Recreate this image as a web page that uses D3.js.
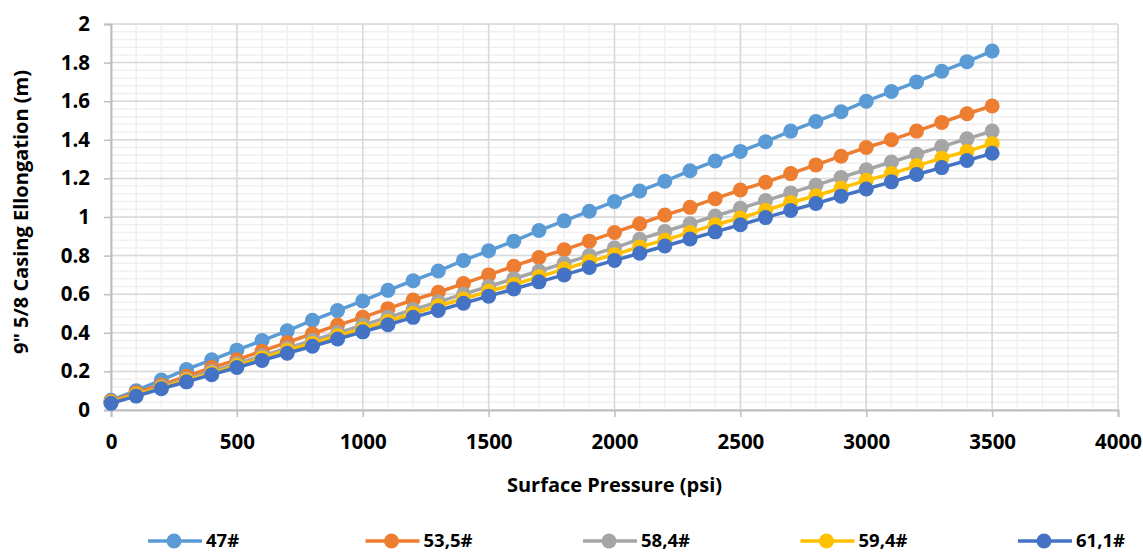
<!DOCTYPE html>
<html lang="en">
<head>
  <meta charset="UTF-8" />
  <title>Casing elongation</title>
  <script src="https://d3js.org/d3.v7.min.js"></script>
  <style>
    body { margin: 0; background: #fff; }
    svg text { font-family: "Open Sans", Lato, sans-serif; font-weight: 700; fill: #000; }
  </style>
</head>
<body>
  <script>
    // data
    const pressure = [0, 100, 200, 300, 400, 500, 600, 700, 800, 900, 1000, 1100, 1200, 1300, 1400, 1500, 1600, 1700,
      1800, 1900, 2000, 2100, 2200, 2300, 2400, 2500, 2600, 2700, 2800, 2900, 3000, 3100, 3200, 3300, 3400, 3500];
    const s47 = [0.05, 0.10, 0.155, 0.21, 0.26, 0.31, 0.36, 0.41, 0.465, 0.515, 0.565, 0.62, 0.67, 0.72, 0.775, 0.825, 0.875, 0.93,
      0.98, 1.03, 1.08, 1.135, 1.185, 1.24, 1.29, 1.34, 1.39, 1.445, 1.495, 1.545, 1.60, 1.65, 1.70, 1.755, 1.805, 1.86];
    const s535 = [0.045, 0.09, 0.13, 0.175, 0.22, 0.26, 0.305, 0.35, 0.395, 0.44, 0.48, 0.525, 0.57, 0.61, 0.655, 0.70, 0.745, 0.79,
      0.83, 0.875, 0.92, 0.965, 1.01, 1.05, 1.095, 1.14, 1.18, 1.225, 1.27, 1.315, 1.36, 1.40, 1.445, 1.49, 1.535, 1.575];
    const s584 = [0.04, 0.08, 0.12, 0.16, 0.20, 0.24, 0.28, 0.32, 0.36, 0.40, 0.44, 0.48, 0.52, 0.56, 0.60, 0.64, 0.68, 0.72,
      0.76, 0.80, 0.84, 0.885, 0.925, 0.965, 1.005, 1.045, 1.085, 1.125, 1.165, 1.205, 1.245, 1.285, 1.325, 1.365, 1.405, 1.445];
    const s594 = [0.04, 0.08, 0.115, 0.155, 0.19, 0.23, 0.27, 0.31, 0.345, 0.385, 0.42, 0.46, 0.50, 0.54, 0.575, 0.615, 0.65, 0.69,
      0.73, 0.77, 0.805, 0.845, 0.88, 0.92, 0.96, 0.995, 1.035, 1.075, 1.11, 1.15, 1.19, 1.225, 1.265, 1.305, 1.34, 1.38];
    const s611 = [0.035, 0.072, 0.11, 0.146, 0.183, 0.22, 0.257, 0.294, 0.33, 0.368, 0.405, 0.442, 0.48, 0.516, 0.553, 0.59, 0.627, 0.664,
      0.70, 0.738, 0.775, 0.812, 0.85, 0.886, 0.923, 0.96, 0.997, 1.034, 1.07, 1.108, 1.145, 1.182, 1.22, 1.256, 1.293, 1.33];
    const seriesNames = ['47#', '53,5#', '58,4#', '59,4#', '61,1#'];
    const seriesValues = [s47, s535, s584, s594, s611];
    const seriesColors = ['#5B9BD5', '#ED7D31', '#A5A5A5', '#FFC000', '#4472C4'];
    const xTicks = [0, 500, 1000, 1500, 2000, 2500, 3000, 3500, 4000];
    const yTicks = [0, 0.2, 0.4, 0.6, 0.8, 1, 1.2, 1.4, 1.6, 1.8, 2];

    const W = 1143, H = 553;
    const margin = { top: 24, right: 25, bottom: 143, left: 111 };

    const svg = d3.select('body').append('svg')
      .attr('width', W)
      .attr('height', H);

    const x = d3.scaleLinear().domain([0, 4000]).range([margin.left, W - margin.right]);
    const y = d3.scaleLinear().domain([0, 2]).range([H - margin.bottom, margin.top]);

    // minor grid
    const g = svg.append('g');
    g.selectAll('.vminor')
      .data(d3.range(0, 4001, 100))
      .join('line')
      .attr('x1', d => x(d)).attr('x2', d => x(d))
      .attr('y1', y(0)).attr('y2', y(2))
      .attr('stroke', '#f0f0f0').attr('stroke-width', 1.5);
    g.selectAll('.hminor')
      .data(d3.range(0, 51).map(i => i * 0.04))
      .join('line')
      .attr('x1', x(0)).attr('x2', x(4000))
      .attr('y1', d => y(d)).attr('y2', d => y(d))
      .attr('stroke', '#f0f0f0').attr('stroke-width', 1.5);

    // major grid
    g.selectAll('.vmajor')
      .data(xTicks)
      .join('line')
      .attr('x1', d => x(d)).attr('x2', d => x(d))
      .attr('y1', y(0)).attr('y2', y(2))
      .attr('stroke', '#d9d9d9').attr('stroke-width', 1.5);
    g.selectAll('.hmajor')
      .data(yTicks)
      .join('line')
      .attr('x1', x(0)).attr('x2', x(4000))
      .attr('y1', d => y(d)).attr('y2', d => y(d))
      .attr('stroke', '#d9d9d9').attr('stroke-width', 1.5);

    // axes
    const xAxis = svg.append('g')
      .attr('transform', `translate(0,${y(0)})`)
      .call(d3.axisBottom(x).tickValues(xTicks).tickSize(7).tickPadding(17).tickFormat(d3.format('d')));
    xAxis.select('.domain').attr('stroke', '#bfbfbf').attr('stroke-width', 2);
    xAxis.selectAll('.tick line').attr('stroke', '#bfbfbf').attr('stroke-width', 1.5);
    xAxis.selectAll('.tick text').style('font-size', '20.5px');

    const yAxis = svg.append('g')
      .attr('transform', `translate(${x(0)},0)`)
      .call(d3.axisLeft(y).tickValues(yTicks).tickSize(7).tickPadding(14).tickFormat(d => String(d)));
    yAxis.select('.domain').attr('stroke', '#bfbfbf').attr('stroke-width', 2);
    yAxis.selectAll('.tick line').attr('stroke', '#bfbfbf').attr('stroke-width', 1.5);
    yAxis.selectAll('.tick text').style('font-size', '20.5px');

    // axis titles
    svg.append('text')
      .attr('x', (x(0) + x(4000)) / 2)
      .attr('y', 492)
      .attr('text-anchor', 'middle')
      .style('font-size', '20px')
      .text('Surface Pressure (psi)');
    svg.append('text')
      .attr('transform', `translate(28,212) rotate(-90)`)
      .attr('text-anchor', 'middle')
      .style('font-size', '20px')
      .text('9" 5/8 Casing Ellongation (m)');

    // series
    const line = d3.line().x((d, i) => x(pressure[i])).y(d => y(d));
    seriesValues.forEach((vals, k) => {
      const sg = svg.append('g');
      sg.append('path')
        .datum(vals)
        .attr('d', line)
        .attr('fill', 'none')
        .attr('stroke', seriesColors[k])
        .attr('stroke-width', 3.5);
      sg.selectAll('circle')
        .data(vals)
        .join('circle')
        .attr('cx', (d, i) => x(pressure[i]))
        .attr('cy', d => y(d))
        .attr('r', 7.5)
        .attr('fill', seriesColors[k]);
    });

    // legend
    const legend = svg.append('g').attr('transform', 'translate(148,541)');
    const item = legend.selectAll('g')
      .data(seriesNames)
      .join('g')
      .attr('transform', (d, i) => `translate(${i * 217.5},0)`);
    item.append('line')
      .attr('x1', 0).attr('x2', 54)
      .attr('stroke', (d, i) => seriesColors[i])
      .attr('stroke-width', 3.5);
    item.append('circle')
      .attr('cx', 26).attr('r', 7.5)
      .attr('fill', (d, i) => seriesColors[i]);
    item.append('text')
      .attr('x', 58)
      .attr('dy', '0.35em')
      .style('font-size', '18.5px')
      .text(d => d);
  </script>
</body>
</html>
